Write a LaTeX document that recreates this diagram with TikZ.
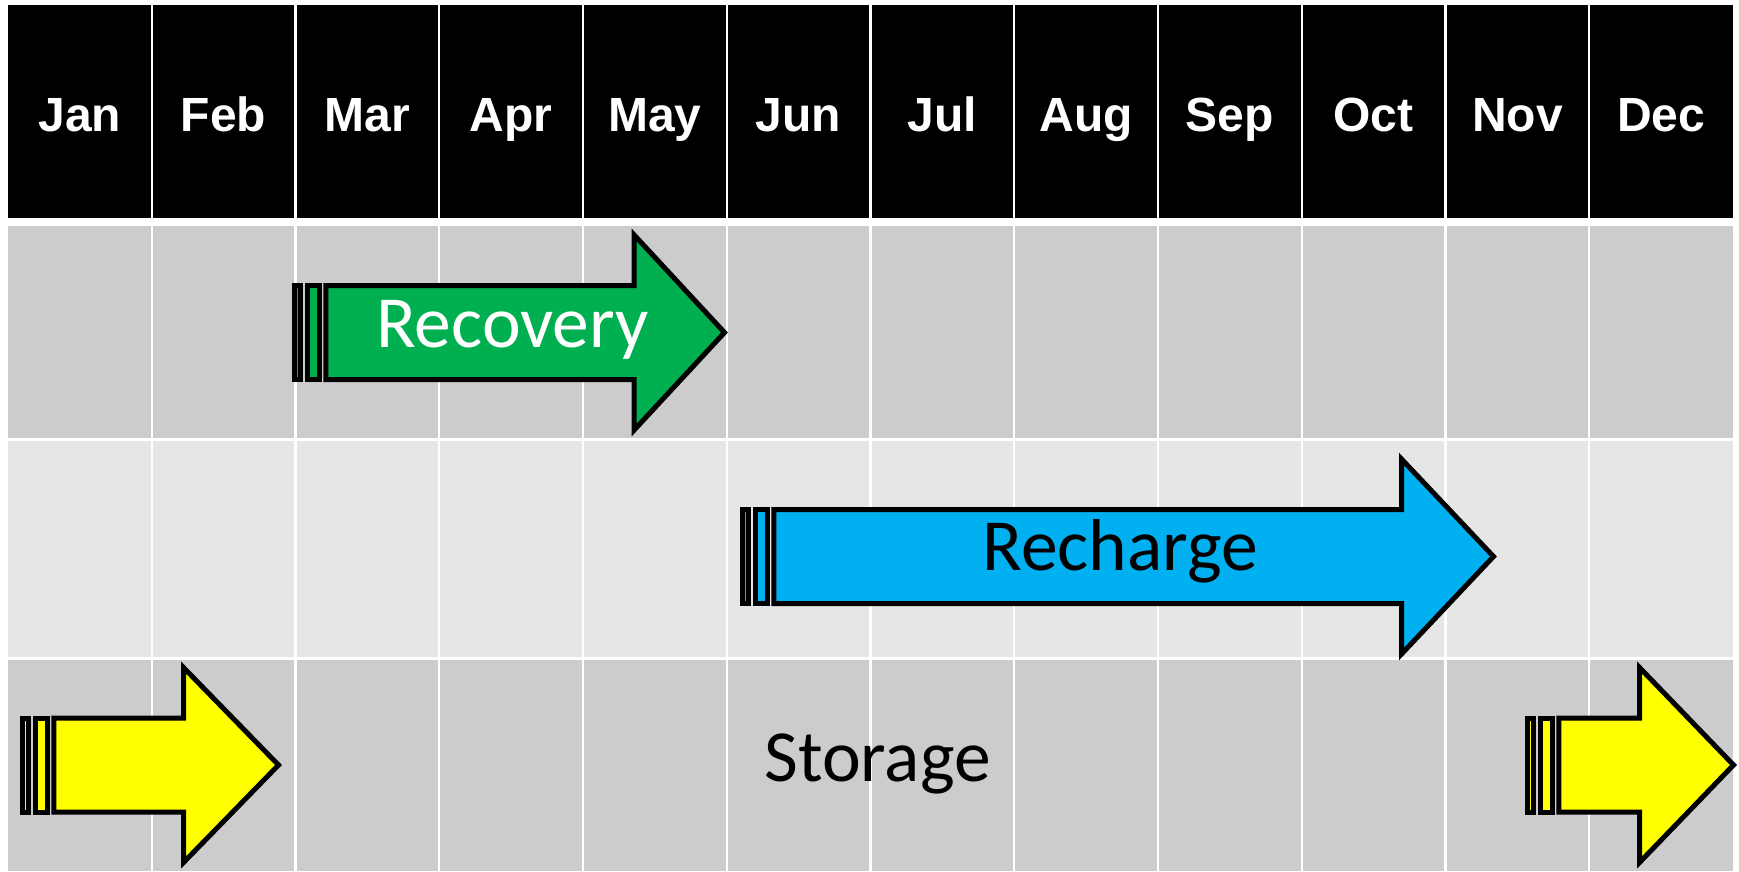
\documentclass[tikz,border=0pt]{standalone}
\usepackage{fontspec}
\setmainfont{Liberation Sans}
\newfontfamily\labelfont{Carlito}

\definecolor{rowdark}{HTML}{CCCCCC}
\definecolor{rowlight}{HTML}{E6E6E6}
\definecolor{recov}{HTML}{00B050}
\definecolor{rechg}{HTML}{00B0F0}
\definecolor{stor}{HTML}{FFFF00}

% Striped block arrow: #1 tail x, #2 head base x, #3 tip x, #4 centre y, #5 fill colour
\newcommand{\stripedarrow}[5]{%
  \begin{scope}[arrowline, fill=#5]
    \filldraw (#1,#4-47) rectangle (#1+6.25,#4+47);
    \filldraw (#1+12.5,#4-47) rectangle (#1+25,#4+47);
    \filldraw (#1+31.25,#4-47) -- (#2,#4-47) -- (#2,#4-97.5) -- (#3,#4)
      -- (#2,#4+97.5) -- (#2,#4+47) -- (#1+31.25,#4+47) -- cycle;
  \end{scope}%
}

\tikzset{
  arrowline/.style={draw=black, line width=5pt, line join=miter, miter limit=10},
  monthlabel/.style={inner sep=0pt, anchor=base, text=white,
    font=\fontsize{48}{56}\selectfont\bfseries},
  phaselabel/.style={inner sep=0pt, anchor=base,
    font=\labelfont\fontsize{73.5}{86}\selectfont},
  gridline/.style={draw=white, line width=2.2pt}
}

\begin{document}
\begin{tikzpicture}[x=1pt, y=-1pt]
  \useasboundingbox (0,0) rectangle (1739,871);
  \fill[white] (0,0) rectangle (1739,871);

  % header band and the three phase rows
  \fill[black]    (8,5)     rectangle (1733,218);
  \fill[rowdark]  (8,226)   rectangle (1733,437.5);
  \fill[rowlight] (8,440.5) rectangle (1733,657);
  \fill[rowdark]  (8,659.5) rectangle (1733,871);

  % column separators
  \foreach \k in {1,...,11} {
    \pgfmathsetmacro\xb{8+143.75*\k}
    \draw[gridline] (\xb,0) -- (\xb,871);
  }

  % month names
  \foreach \m [count=\i from 0] in {Jan,Feb,Mar,Apr,May,Jun,Jul,Aug,Sep,Oct,Nov,Dec} {
    \pgfmathsetmacro\xc{8+143.75*\i+71.875}
    \node[monthlabel] (month\m) at (\xc,131.5) {\m};
  }

  % phase arrows
  \stripedarrow{294.5}{634.2}{724.5}{332.5}{recov}
  \stripedarrow{742.5}{1401.5}{1493.5}{556.5}{rechg}
  \stripedarrow{22.5}{183.5}{278.5}{765}{stor}
  \stripedarrow{1527.5}{1639.5}{1733.5}{765}{stor}

  % phase names
  \node[phaselabel, text=white] (recovery) at (512.5,347.5) {Recovery};
  \node[phaselabel, text=black] (recharge) at (1120,570.5) {Recharge};
  \node[phaselabel, text=black] (storage)  at (877.5,781) {Storage};
\end{tikzpicture}
\end{document}
